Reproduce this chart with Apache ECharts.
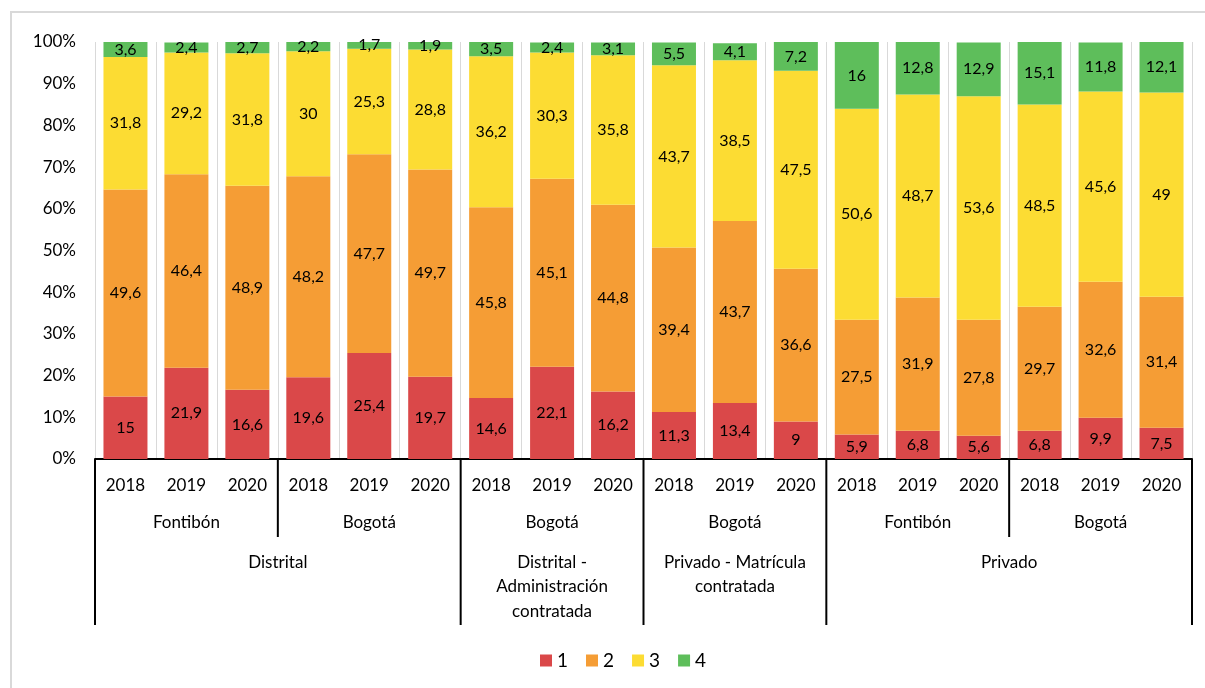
<!DOCTYPE html>
<html><head><meta charset="utf-8">
<script src="https://cdn.jsdelivr.net/npm/echarts@6/dist/echarts.min.js"></script>
<style>html,body{margin:0;padding:0;background:#fff}#c{width:1205px;height:688px}</style>
</head><body><div id="c"></div>
<script>
const years = ['2018','2019','2020','2018','2019','2020','2018','2019','2020','2018','2019','2020','2018','2019','2020','2018','2019','2020'];
const level2 = [['Fontibón',3],['Bogotá',3],['Bogotá',3],['Bogotá',3],['Fontibón',3],['Bogotá',3]];
const level3 = [['Distrital',6],['Distrital -\nAdministración\ncontratada',3],['Privado - Matrícula\ncontratada',3],['Privado',6]];
const s1 = [15,21.9,16.6,19.6,25.4,19.7,14.6,22.1,16.2,11.3,13.4,9,5.9,6.8,5.6,6.8,9.9,7.5];
const s2 = [49.6,46.4,48.9,48.2,47.7,49.7,45.8,45.1,44.8,39.4,43.7,36.6,27.5,31.9,27.8,29.7,32.6,31.4];
const s3 = [31.8,29.2,31.8,30,25.3,28.8,36.2,30.3,35.8,43.7,38.5,47.5,50.6,48.7,53.6,48.5,45.6,49];
const s4 = [3.6,2.4,2.7,2.2,1.7,1.9,3.5,2.4,3.1,5.5,4.1,7.2,16,12.8,12.9,15.1,11.8,12.1];
const seriesNames = ['1','2','3','4'];
const colors = ['#DA4849','#F59D35','#FCDC33','#5EBE5B'];
const yTicks = [0,10,20,30,40,50,60,70,80,90,100];

const FONT = 'Lato';
const chart = echarts.init(document.getElementById('c'), null, {renderer:'canvas'});
const fmt = v => String(v).replace('.', ',');
const mk = (name, data, i) => ({
  name, type:'bar', stack:'t', data, barWidth:44,
  itemStyle:{color:colors[i]},
  label:{show:true, position:'inside', color:'#000', fontFamily:FONT, fontSize:16,
    formatter: p => fmt(p.value)}
});
chart.setOption({
  animation:false,
  textStyle:{fontFamily:FONT},
  grid:{left:95, right:13, top:42, bottom:229},
  legend:{top:646, left:535, itemWidth:12, itemHeight:12, itemGap:18,
    textStyle:{fontFamily:FONT, fontSize:19, color:'#000'},
    data: seriesNames.map((n,i)=>({name:n, icon:'rect'}))},
  xAxis:{type:'category', data:years,
    axisLine:{show:true, lineStyle:{color:'#000', width:2}},
    axisTick:{show:false},
    axisLabel:{fontFamily:FONT, fontSize:17, color:'#000', margin:18, interval:0},
    splitLine:{show:true, lineStyle:{color:'#d9d9d9', width:1}}},
  yAxis:{type:'value', min:0, max:100, interval:10,
    axisLine:{show:false}, axisTick:{show:false}, splitLine:{show:false},
    axisLabel:{formatter: v => yTicks.includes(v) ? v + '%' : '', fontFamily:FONT, fontSize:17, color:'#000', margin:19}},
  series:[mk('1',s1,0), mk('2',s2,1), mk('3',s3,2), mk('4',s4,3)]
});

// Multi-level axis drawn from the axis scale
const c0 = chart.convertToPixel({xAxisIndex:0}, 0);
const c1 = chart.convertToPixel({xAxisIndex:0}, 1);
const band = c1 - c0;
const edge = i => c0 - band/2 + i*band;
const yAxisPx = chart.convertToPixel({yAxisIndex:0}, 0);
const g = [];
g.push({type:'rect', shape:{x:11, y:12, width:1210, height:700}, style:{fill:null, stroke:'#d9d9d9', lineWidth:2}, z:0, silent:true});
let idx = 0; const fullB = [0];
level3.forEach(([n,c]) => { idx += c; fullB.push(idx); });
fullB.forEach(b => g.push({type:'line', shape:{x1:edge(b), y1:yAxisPx, x2:edge(b), y2:yAxisPx+166}, style:{stroke:'#000', lineWidth:2}}));
idx = 0;
level2.forEach(([n,c]) => { idx += c; if (!fullB.includes(idx)) g.push({type:'line', shape:{x1:edge(idx), y1:yAxisPx, x2:edge(idx), y2:yAxisPx+78}, style:{stroke:'#000', lineWidth:2}}); });
idx = 0;
level2.forEach(([n,c]) => {
  const cx = (edge(idx) + edge(idx+c))/2;
  g.push({type:'text', x:cx, y:yAxisPx+64, style:{text:n, fontFamily:FONT, fontSize:17, fill:'#000', align:'center', verticalAlign:'middle'}});
  idx += c;
});
idx = 0;
level3.forEach(([n,c]) => {
  const cx = (edge(idx) + edge(idx+c))/2;
  g.push({type:'text', x:cx, y:yAxisPx+91, style:{text:n, fontFamily:FONT, fontSize:17, fill:'#000', align:'center', verticalAlign:'top', lineHeight:24.5}});
  idx += c;
});
chart.setOption({graphic:g});
</script></body></html>
